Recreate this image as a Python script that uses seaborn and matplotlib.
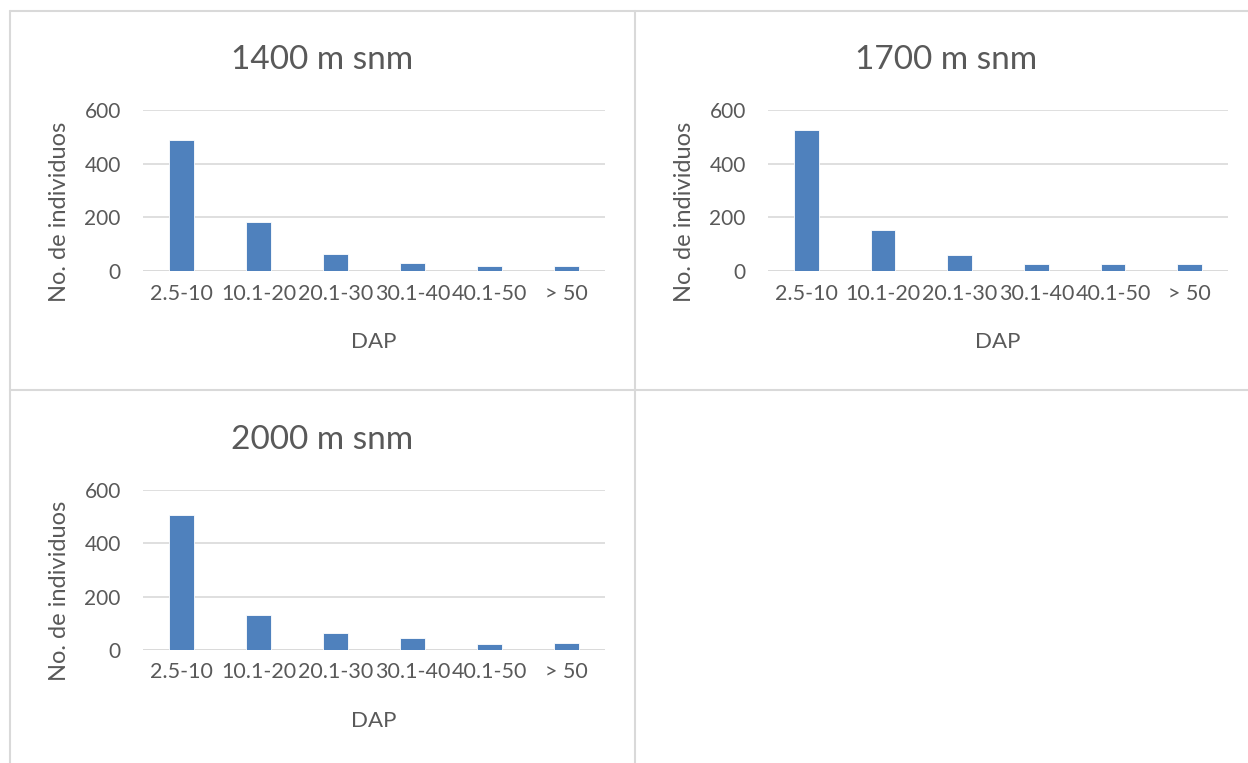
import matplotlib
matplotlib.use("Agg")
import matplotlib.pyplot as plt
import seaborn as sns
import pandas as pd
from matplotlib.lines import Line2D

# data
clases = ['2.5-10', '10.1-20', '20.1-30', '30.1-40', '40.1-50', '> 50']
n_1400 = [490, 183, 64, 31, 17, 17]
n_1700 = [527, 154, 60, 27, 27, 27]
n_2000 = [505, 132, 65, 46, 21, 26]
titulos = ['1400 m snm', '1700 m snm', '2000 m snm']

sns.set_style('white')
plt.rcParams['font.family'] = ['Lato', 'DejaVu Sans']

W, H = 1248, 763
gris = '#595959'
azul = '#4F81BD'

fig = plt.figure(figsize=(W / 100, H / 100), dpi=100)

def px_axes(x0, y0, x1, y1):
    return fig.add_axes([x0 / W, 1 - y1 / H, (x1 - x0) / W, (y1 - y0) / H])

# panel borders
def linea(x0, y0, x1, y1):
    fig.add_artist(Line2D([x0 / W, x1 / W], [1 - y0 / H, 1 - y1 / H],
                          color='#D9D9D9', lw=1.5, transform=fig.transFigure))

linea(10, 11, 1248, 11)
linea(10, 390, 1248, 390)
linea(10, 11, 10, 763)
linea(635, 11, 635, 763)

cajas = [(143, 110, 605, 271), (768, 110, 1228, 271), (143, 490, 605, 650)]
series = [n_1400, n_1700, n_2000]

for (x0, y0, x1, y1), vals, tit in zip(cajas, series, titulos):
    ax = px_axes(x0, y0, x1, y1)
    df = pd.DataFrame({'DAP': clases, 'n': vals})
    sns.barplot(data=df, x='DAP', y='n', ax=ax, color=azul, width=0.32,
                saturation=1, edgecolor='white', linewidth=0.6)
    ax.set_ylim(0, 600)
    ax.set_xlim(-0.5, 5.5)
    ax.set_yticks([0, 200, 400, 600])
    ax.yaxis.grid(True, color='#D9D9D9', lw=1.2)
    ax.set_axisbelow(True)
    for s in ax.spines.values():
        s.set_visible(False)
    ax.axhline(0, color='#D9D9D9', lw=1.2, zorder=0)
    ax.tick_params(length=0, colors=gris)
    ax.tick_params(axis='x', labelsize=15.5, pad=9)
    ax.tick_params(axis='y', labelsize=15, pad=16)
    ax.set_xlabel('DAP', fontsize=16, color=gris)
    ax.set_ylabel('No. de individuos', fontsize=17, color=gris)
    ax.xaxis.set_label_coords(0.5, -0.38)
    ax.yaxis.set_label_coords(-0.158, 0.37)
    ax.set_title(tit, fontsize=24, color=gris, x=0.388, y=1.255, pad=0)

fig.savefig('out.png', dpi=100)
